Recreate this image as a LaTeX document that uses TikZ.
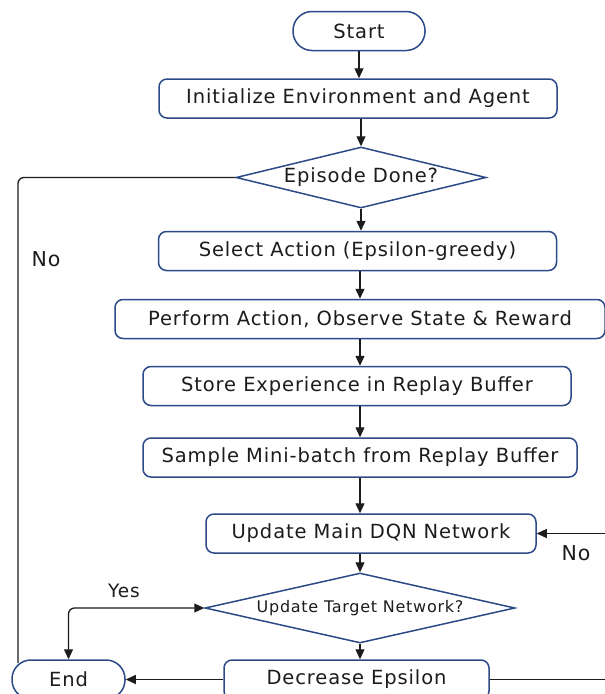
\documentclass[tikz,border=0pt]{standalone}
\usepackage{fontspec}
\setmainfont{DejaVu Sans}[LetterSpace=4.5]
\usetikzlibrary{shapes.geometric,arrows.meta}
\definecolor{bord}{HTML}{2C4A88}
\definecolor{ink}{HTML}{1C1C1C}
\tikzset{
  box/.style={draw=bord, line width=1.5pt, rounded corners=8pt, minimum height=39pt, inner sep=0pt, text=ink, font=\fontsize{19.5}{21}\selectfont},
  term/.style={draw=bord, line width=1.5pt, rounded corners=19pt, minimum height=39pt, inner sep=0pt, text=ink, font=\fontsize{19.5}{21}\selectfont},
  dec/.style={draw=bord, line width=1.5pt, diamond, inner sep=0pt, text=ink},
  conn/.style={draw=ink, line width=1.3pt},
  arr/.style={conn, -{Triangle[length=10pt,width=9pt]}},
  lbl/.style={text=ink, font=\fontsize{20.5}{22}\selectfont, inner sep=0pt}
}
\begin{document}
\begin{tikzpicture}[x=1pt,y=-1pt]
\useasboundingbox[fill=white] (0,0) rectangle (605,694);
\node[term, minimum width=132pt] (start) at (359,31) {Start};
\node[box, minimum width=398pt] (init) at (358,98.5) {Initialize Environment and Agent};
\node[dec, minimum width=250pt, minimum height=61pt, aspect=4, font=\fontsize{19.5}{21}\selectfont] (epi) at (361,177.5) {Episode Done?};
\node[box, minimum width=398pt] (sel) at (357.5,251) {Select Action (Epsilon-greedy)};
\node[box, minimum width=490pt] (perf) at (360,319) {Perform Action, Observe State \& Reward};
\node[box, minimum width=428pt] (store) at (357,386) {Store Experience in Replay Buffer};
\node[box, minimum width=434pt] (samp) at (360,457.5) {Sample Mini-batch from Replay Buffer};
\node[box, minimum width=330pt] (main) at (371,533.5) {Update Main DQN Network};
\node[dec, minimum width=310pt, minimum height=70pt, aspect=4.4, font=\fontsize{16}{18}\selectfont] (tgt) at (360,608) {Update Target Network?};
\node[box, minimum width=265pt] (decr) at (356.5,679.5) {Decrease Epsilon};
\node[term, minimum width=113pt] (fin) at (68.5,679.5) {End};

\coordinate (lp) at (18,663);
\coordinate (rin) at (605,533.5);
\coordinate (rout) at (605,679.5);

\draw[arr] (start) -- (start |- init.north);
\draw[arr] (epi.north |- init.south) -- (epi.north);
\draw[arr] (epi.south) -- (epi.south |- sel.north);
\draw[arr] (360,270.5) -- (perf.north);
\draw[arr] (perf.south) -- (perf.south |- store.north);
\draw[arr] (perf.south |- store.south) -- (samp.north);
\draw[arr] (samp.south) -- (samp.south |- main.north);
\draw[arr] (tgt.north |- main.south) -- (tgt.north);
\draw[arr] (tgt.south) -- (tgt.south |- decr.north);
\draw[arr] (rin) -- (main.east);
\draw[conn] (decr.east) -- (rout);
\draw[arr] (decr.west) -- (fin.east);
\draw[conn, rounded corners=6pt] (epi.west) -| (lp);
\draw[conn, {Triangle[length=10pt,width=9pt]}-{Triangle[length=10pt,width=9pt]}, rounded corners=6pt] (fin.north) |- (tgt.west);

\node[lbl] (no1) at (46,259.5) {No};
\node[lbl] (no2) at (576,553) {No};
\node[lbl, font=\fontsize{18.5}{20}\selectfont] (yes) at (124,591) {Yes};
\end{tikzpicture}
\end{document}
